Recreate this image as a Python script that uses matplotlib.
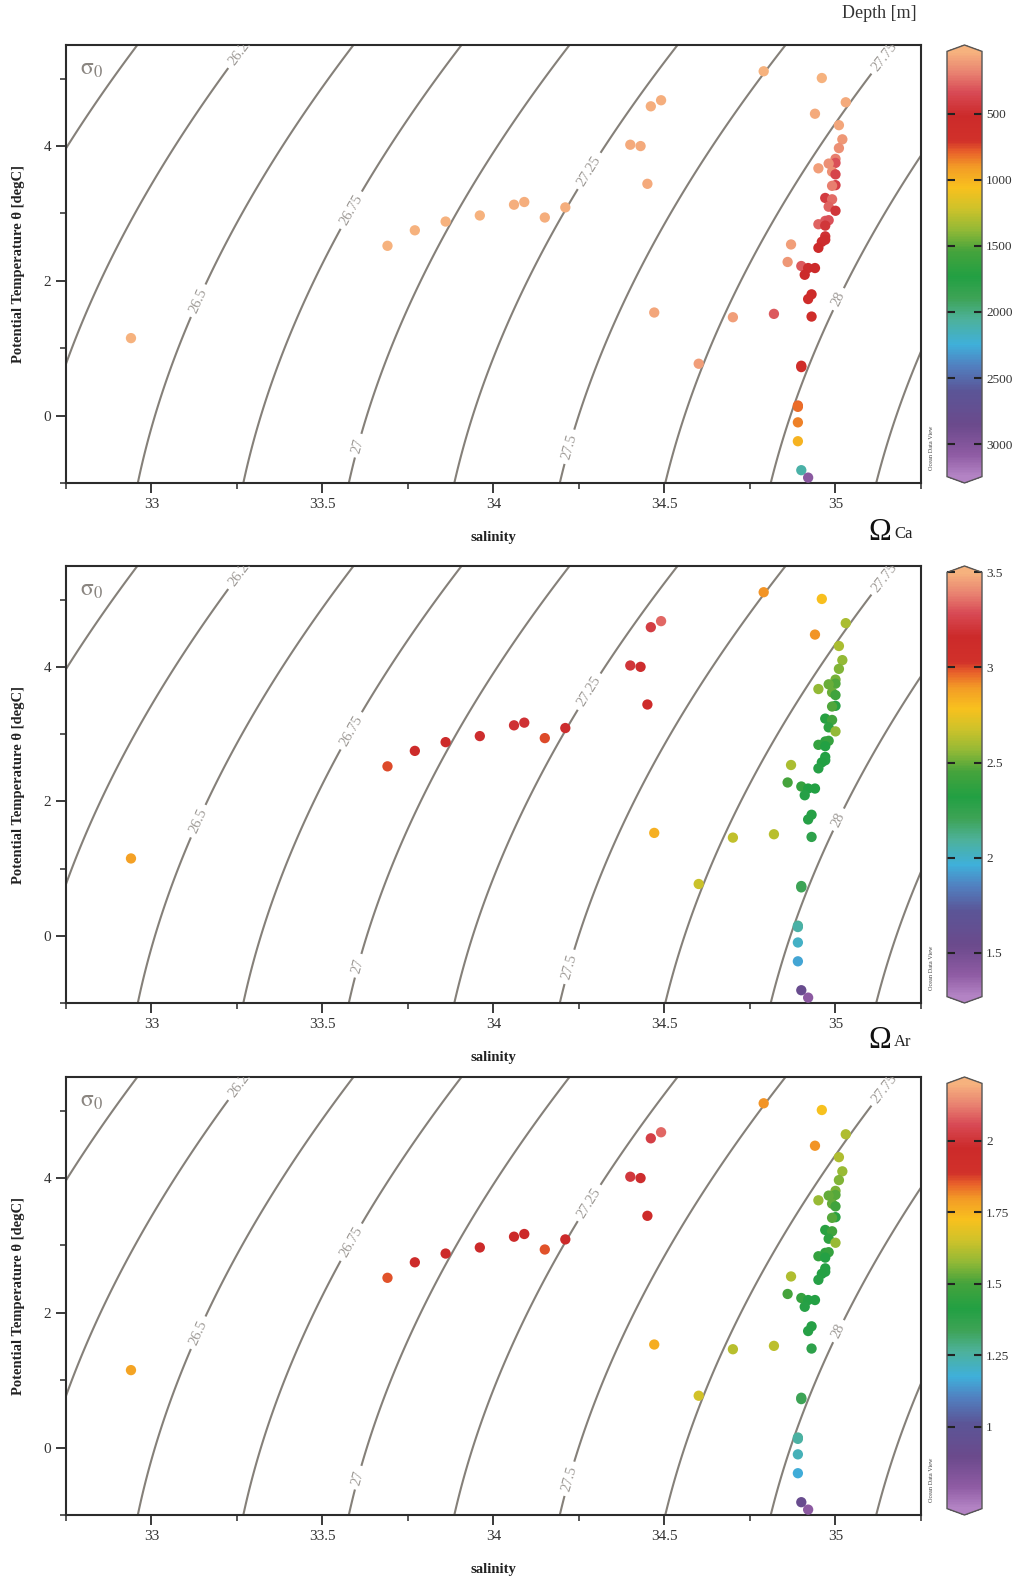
import numpy as np
import matplotlib.pyplot as plt
from matplotlib.colors import LinearSegmentedColormap, Normalize
from matplotlib.ticker import MultipleLocator

plt.rcParams['font.family'] = ['Liberation Serif', 'DejaVu Serif']
plt.rcParams['mathtext.fontset'] = 'stix'

# bottle samples: salinity, potential temperature, depth, saturation states
salinity = [34.79, 34.96, 34.46, 34.49, 35.03, 34.94, 35.01, 34.40, 34.43, 35.02,
            35.01, 34.45, 35.00, 35.00, 34.98, 34.95, 34.99, 35.00, 35.00, 34.99,
            34.97, 34.99, 34.98, 35.00, 34.95, 34.97, 34.98, 34.97, 34.97, 34.97,
            34.96, 34.95, 34.87, 34.86, 34.90, 34.92, 34.94, 34.91, 34.93, 34.92,
            34.93, 34.82, 34.70, 34.47, 34.60, 34.90, 34.90, 34.89, 34.89, 34.89,
            34.89, 34.90, 34.92, 34.06, 34.09, 34.15, 34.21, 33.69, 33.77, 33.86,
            33.96, 32.94]
theta = [5.11, 5.01, 4.59, 4.68, 4.65, 4.48, 4.31, 4.02, 4.00, 4.10,
         3.97, 3.44, 3.81, 3.75, 3.74, 3.67, 3.62, 3.58, 3.42, 3.41,
         3.23, 3.21, 3.10, 3.04, 2.84, 2.89, 2.90, 2.82, 2.66, 2.61,
         2.58, 2.49, 2.54, 2.28, 2.22, 2.19, 2.19, 2.09, 1.80, 1.73,
         1.47, 1.51, 1.46, 1.53, 0.77, 0.72, 0.74, 0.15, 0.13, -0.10,
         -0.38, -0.81, -0.92, 3.13, 3.17, 2.94, 3.09, 2.52, 2.75, 2.88,
         2.97, 1.15]
depth = [40, 40, 50, 50, 60, 60, 80, 60, 60, 120,
         150, 60, 200, 330, 150, 100, 150, 380, 400, 200,
         420, 250, 280, 450, 280, 300, 330, 450, 480, 500,
         500, 520, 100, 120, 300, 500, 520, 530, 560, 580,
         600, 300, 100, 80, 100, 600, 620, 800, 820, 850,
         1000, 2100, 3050, 50, 50, 50, 50, 40, 40, 40,
         40, 30]
omega_ca = [2.90, 2.79, 3.23, 3.34, 2.61, 2.90, 2.61, 3.21, 3.17, 2.56,
            2.54, 3.14, 2.52, 2.47, 2.50, 2.56, 2.50, 2.43, 2.34, 2.47,
            2.34, 2.43, 2.36, 2.56, 2.39, 2.36, 2.39, 2.32, 2.32, 2.30,
            2.32, 2.30, 2.61, 2.45, 2.39, 2.32, 2.32, 2.30, 2.30, 2.30,
            2.27, 2.63, 2.65, 2.83, 2.67, 2.21, 2.21, 2.10, 2.07, 2.01,
            1.94, 1.58, 1.40, 3.19, 3.19, 3.00, 3.17, 3.00, 3.14, 3.14,
            3.17, 2.88]
omega_ar = [1.80, 1.72, 2.03, 2.09, 1.61, 1.80, 1.61, 2.01, 1.98, 1.58,
            1.56, 1.96, 1.55, 1.52, 1.53, 1.58, 1.53, 1.49, 1.43, 1.52,
            1.43, 1.49, 1.44, 1.58, 1.46, 1.44, 1.46, 1.41, 1.41, 1.40,
            1.41, 1.40, 1.61, 1.50, 1.46, 1.41, 1.41, 1.40, 1.40, 1.40,
            1.38, 1.63, 1.62, 1.76, 1.66, 1.34, 1.34, 1.26, 1.25, 1.22,
            1.17, 0.92, 0.80, 1.97, 1.97, 1.86, 1.97, 1.86, 1.96, 1.96,
            1.97, 1.78]

plain_levels = [25.75, 26.0, 28.25, 28.5, 28.75]
labelled = [26.25, 26.5, 26.75, 27.0, 27.25, 27.5, 27.75, 28.0]
label_spots = [(33.26, 5.42), (33.13, 1.72), (33.58, 3.06), (33.60, -0.44),
               (34.28, 3.63), (34.22, -0.46), (35.14, 5.34), (35.00, 1.75)]

depth_ticks = [500, 1000, 1500, 2000, 2500, 3000]
ca_ticks = [1.5, 2, 2.5, 3, 3.5]
ar_ticks = [1, 1.25, 1.5, 1.75, 2]

# ODV-like palette
odv = LinearSegmentedColormap.from_list('odv', [
    (0.00, '#B383C4'), (0.05, '#8E5BA3'), (0.12, '#6B4A8C'), (0.20, '#5B5597'),
    (0.26, '#5180C0'), (0.31, '#3FB0DA'), (0.37, '#4DB199'), (0.42, '#3DA355'),
    (0.47, '#22A043'), (0.53, '#45A33C'), (0.58, '#93B936'), (0.63, '#CDC22A'),
    (0.68, '#F8C11E'), (0.73, '#F39A26'), (0.765, '#E8602A'), (0.79, '#D1312A'),
    (0.85, '#CC2A2A'), (0.905, '#D84A55'), (0.95, '#E88070'), (1.00, '#F6B27E')])


def sigma0(S, T):
    # UNESCO 1981 density at surface pressure
    rw = (999.842594 + 6.793952e-2 * T - 9.095290e-3 * T**2 + 1.001685e-4 * T**3
          - 1.120083e-6 * T**4 + 6.536332e-9 * T**5)
    A = 0.824493 - 4.0899e-3 * T + 7.6438e-5 * T**2 - 8.2467e-7 * T**3 + 5.3875e-9 * T**4
    B = -5.72466e-3 + 1.0227e-4 * T - 1.6546e-6 * T**2
    return rw + A * S + B * S**1.5 + 4.8314e-4 * S**2 - 1000.0


SS, TT = np.meshgrid(np.linspace(32.75, 35.25, 400), np.linspace(-1, 5.5, 400))
SIG = sigma0(SS, TT)

W, H = 1014, 1585
fig = plt.figure(figsize=(W / 100, H / 100), dpi=100)

panels = [
    (depth, odv.reversed(), 30, 3245, depth_ticks, 45, 483),
    (omega_ca, odv, 1.27, 3.5, ca_ticks, 566, 1003),
    (omega_ar, odv, 0.714, 2.2, ar_ticks, 1077, 1515),
]

dark = '#2b2b2b'
line_col = '#858079'
for i, (vals, cmap, vmin, vmax, ticks, top, bot) in enumerate(panels):
    ax = fig.add_axes([66 / W, 1 - bot / H, 855 / W, (bot - top) / H])
    ax.contour(SS, TT, SIG, levels=plain_levels, colors=line_col, linewidths=1.5)
    cs = ax.contour(SS, TT, SIG, levels=labelled, colors=line_col, linewidths=1.5)
    lbls = ax.clabel(cs, manual=label_spots, inline=True, inline_spacing=5,
                     fontsize=10.5, colors='#9d9995', fmt=lambda v: f'{v:g}')
    for t in lbls:
        t.set_clip_on(True)
        t.set_clip_box(ax.bbox)
    sc = ax.scatter(salinity, theta, c=vals, cmap=cmap, norm=Normalize(vmin, vmax),
                    s=55, edgecolors='none', zorder=3)

    ax.set_xlim(32.75, 35.25)
    ax.set_ylim(-1, 5.5)
    ax.xaxis.set_major_locator(MultipleLocator(0.5))
    ax.xaxis.set_minor_locator(MultipleLocator(0.25))
    ax.yaxis.set_major_locator(MultipleLocator(2))
    ax.yaxis.set_minor_locator(MultipleLocator(1))
    ax.xaxis.set_major_formatter(lambda v, p: f'{v:g}')
    ax.yaxis.set_major_formatter(lambda v, p: f'{v:g}')
    ax.tick_params(which='major', length=7, width=1.3, color=dark, labelsize=11,
                   labelcolor='#333333', pad=3.5)
    ax.tick_params(which='minor', length=4.5, width=1.1, color=dark)
    for sp in ax.spines.values():
        sp.set_color(dark)
        sp.set_linewidth(1.5)

    ax.set_xlabel('salinity', fontsize=10.5, fontweight='bold', color='#222222')
    ax.xaxis.set_label_coords(0.5, -0.11)
    ax.set_ylabel('Potential Temperature θ [degC]', fontsize=10.5, fontweight='bold',
                  color='#222222')
    ax.yaxis.set_label_coords(-0.048, 0.5)

    ax.text(0.016, 0.945, r'$\mathrm{\sigma}_\mathrm{0}$', transform=ax.transAxes,
            fontsize=17, color='#8a8580', va='center')
    ax.text(1.009, 0.08, 'Ocean Data View', transform=ax.transAxes, fontsize=4.5,
            rotation=90, va='center', ha='left', color='#444444')

    cax = fig.add_axes([947 / W, 1 - bot / H, 35 / W, (bot - top) / H])
    cb = fig.colorbar(sc, cax=cax, extend='both', extendfrac=0.015)
    if i == 0:
        cax.invert_yaxis()
    cb.set_ticks(ticks)
    cb.ax.yaxis.set_major_formatter(lambda v, p: f'{v:g}')
    cb.minorticks_off()
    cb.ax.tick_params(which='major', direction='in', left=True, right=True,
                      labelleft=False, labelright=True, length=6, width=1.5,
                      color='#222222', labelsize=9.5, labelcolor='#333333', pad=3)
    cb.outline.set_edgecolor('#555555')
    cb.outline.set_linewidth(1.0)

fig.text(917 / W, 1 - 14 / H, 'Depth [m]', ha='right', va='center', fontsize=13,
         color='#333333')
for y, sub in [(533, 'Ca'), (1041, 'Ar')]:
    fig.text(868 / W, 1 - y / H, 'Ω', ha='left', va='center', fontsize=22, color='#111111')
    fig.text(894 / W, 1 - (y + 1) / H, sub, ha='left', va='center', fontsize=12,
             color='#222222')

fig.savefig('out.png', dpi=100, facecolor='white')
